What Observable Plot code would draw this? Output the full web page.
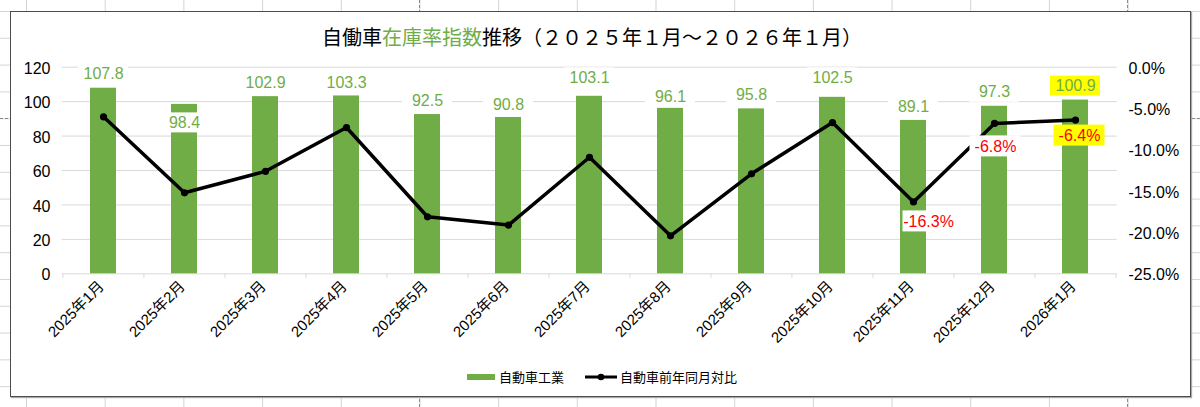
<!DOCTYPE html>
<html><head><meta charset="utf-8">
<script src="https://cdn.jsdelivr.net/npm/d3@7"></script>
<script src="https://cdn.jsdelivr.net/npm/@observablehq/plot@0.6"></script>
<style>
html,body{margin:0;padding:0;background:#fff;}
#page{position:relative;width:1200px;height:407px;overflow:hidden;
  background-image:linear-gradient(to right,#d4d4d4 1px,transparent 1px),linear-gradient(to bottom,#d4d4d4 1px,transparent 1px);
  background-size:78.7px 26.8px;background-position:26px 11px;}
.vdash{position:absolute;top:0;height:407px;width:0;border-left:1px dashed #8a8a8a;}
.hdash{position:absolute;left:0;width:1200px;height:0;border-top:1px dashed #8a8a8a;}
#box{position:absolute;left:10px;top:11px;width:1181px;height:386px;box-sizing:border-box;border:1.5px solid #4d4d4d;background:#fff;box-shadow:1px 1px 1px #aaa;}
#title{position:absolute;left:0;top:24px;width:1184px;text-align:center;font-family:"Noto Sans CJK JP",sans-serif;font-size:20px;line-height:26px;color:#000;white-space:nowrap;}
#title .g{color:#70AD47;}
#chart{position:absolute;left:10px;top:50px;}
#legend{position:absolute;top:367px;left:0;width:1200px;height:20px;font-family:"Noto Sans CJK JP",sans-serif;font-size:13px;color:#000;}
.lg{position:absolute;top:0;line-height:20px;white-space:nowrap;}
</style></head>
<body>
<div id="page">
  <div class="vdash" style="left:419px"></div>
  <div class="vdash" style="left:1127px"></div>
  <div class="hdash" style="top:118px"></div>
  <div id="box"></div>
  <div id="title">自働車<span class="g">在庫率指数</span>推移（２０２５年１月～２０２６年１月）</div>
  <div id="chart"></div>
  <div id="legend"></div>
</div>
<script>
// ---- data ----
const months = ["2025年1月","2025年2月","2025年3月","2025年4月","2025年5月","2025年6月","2025年7月","2025年8月","2025年9月","2025年10月","2025年11月","2025年12月","2026年1月"];
const inventoryIndex = [107.8, 98.4, 102.9, 103.3, 92.5, 90.8, 103.1, 96.1, 95.8, 102.5, 89.1, 97.3, 100.9];
const yoyPct = [-6.0, -15.2, -12.6, -7.3, -18.1, -19.1, -10.9, -20.4, -12.9, -6.7, -16.3, -6.8, -6.4];
const leftTicks = [0, 20, 40, 60, 80, 100, 120];
const rightTicks = [0, -5, -10, -15, -20, -25];
const pctLabelMonths = ["2025年11月", "2025年12月", "2026年1月"];
const seriesNames = ["自動車工業", "自動車前年同月対比"];

// ---- layout / style (not data) ----
const GREEN = "#70AD47", GRID = "#d9d9d9";
const W = 1180, H = 300, ML = 51.7, MR = 73.3, MT = 16.7, MB = 76.7;
const PI = 0.683, PO = 0.342;
const step = (W - ML - MR) / (months.length - PI + 2 * PO);
const barLabelDy = {"2025年2月": 18.5, "2025年4月": -13.5, "2025年6月": -13, "2025年7月": -18.5, "2025年8月": -11.5, "2025年10月": -19.5};
const barLabelBg = {"2026年1月": "#FFFF00"};
const pctLabelLayout = {
  "2025年11月": {dx: 15, dy: 19.5, bg: "white"},
  "2025年12月": {dx: 1, dy: 23, bg: "white"},
  "2026年1月": {dx: 4, dy: 15.5, bg: "#FFFF00"}
};

// right axis (percent) mapped onto the left scale
const pMin = -25, pMax = 0, yMax = 120;
const toLeft = p => (p - pMin) / (pMax - pMin) * yMax;
const fromLeft = v => v / yMax * (pMax - pMin) + pMin;
const fmtPct = p => (Math.round(p * 10) / 10).toFixed(1) + "%";

const bars = months.map((m, i) => ({month: m, value: inventoryIndex[i]}));
const yoy = months.map((m, i) => ({month: m, pct: yoyPct[i], left: toLeft(yoyPct[i])}));

const labelMarks = [];
for (const b of bars) {
  const dy = barLabelDy[b.month] ?? -14;
  const bg = barLabelBg[b.month] ?? "white";
  labelMarks.push(Plot.barY([b], {x: "month", y1: "value", y2: "value", dy, fill: bg,
    insetTop: -10, insetBottom: -10, insetLeft: -12, insetRight: -12}));
  labelMarks.push(Plot.text([b], {x: "month", y: "value", dy, text: d => d.value.toFixed(1),
    fill: GREEN, fontSize: 16}));
}
for (const d of yoy.filter(d => pctLabelMonths.includes(d.month))) {
  const L = pctLabelLayout[d.month];
  labelMarks.push(Plot.barY([d], {x: "month", y1: "left", y2: "left", dx: L.dx, dy: L.dy, fill: L.bg,
    insetTop: -10.5, insetBottom: -10.5, insetLeft: -12.5, insetRight: -12.5}));
  labelMarks.push(Plot.text([d], {x: "month", y: "left", dx: L.dx, dy: L.dy, text: d => fmtPct(d.pct),
    fill: "#FF0000", fontSize: 16}));
}

const chart = Plot.plot({
  width: W, height: H, marginLeft: ML, marginRight: MR, marginTop: MT, marginBottom: MB,
  style: {background: "transparent", fontFamily: '"Liberation Sans","Noto Sans CJK JP",sans-serif', overflow: "visible", color: "#000"},
  x: {type: "band", domain: months, paddingInner: PI, paddingOuter: PO, label: null},
  y: {domain: [0, yMax], label: null},
  marks: [
    Plot.ruleY(leftTicks, {stroke: GRID, strokeWidth: 1}),
    Plot.ruleX(months, {x: d => d, y1: 0, y2: -2.6, dx: -step / 2, stroke: GRID}),
    Plot.ruleX(months.slice(-1), {x: d => d, y1: 0, y2: -2.6, dx: step / 2, stroke: GRID}),
    Plot.axisY(leftTicks, {anchor: "left", tickSize: 0, tickPadding: 11.7, fontSize: 16, label: null, dy: 1.5}),
    Plot.axisY(rightTicks.map(toLeft), {anchor: "right", tickSize: 0, tickPadding: 11.3, fontSize: 16, label: null, dy: 1.5,
      tickFormat: v => fmtPct(fromLeft(v))}),
    Plot.axisX({anchor: "bottom", tickSize: 0, tickPadding: 10, tickRotate: -45, fontSize: 15, label: null, dx: -2}),
    Plot.barY(bars, {x: "month", y: "value", fill: GREEN}),
    Plot.line(yoy, {x: "month", y: "left", stroke: "#000", strokeWidth: 3.5}),
    Plot.dot(yoy, {x: "month", y: "left", r: 3.6, fill: "#000"}),
    ...labelMarks
  ]
});
document.getElementById("chart").appendChild(chart);

// legend
const lg = document.getElementById("legend");
lg.innerHTML =
  `<div class="lg" style="left:467px;"><span style="display:inline-block;width:28px;height:6px;background:${GREEN};vertical-align:middle;margin-right:4px;position:relative;top:-1px"></span>${seriesNames[0]}</div>` +
  `<div class="lg" style="left:585px;"><svg width="32" height="10" style="vertical-align:middle;position:relative;top:-1px;margin-right:3px"><line x1="0" y1="5" x2="32" y2="5" stroke="#000" stroke-width="3"/><circle cx="16" cy="5" r="3.3" fill="#000"/></svg>${seriesNames[1]}</div>`;
</script>
</body></html>
